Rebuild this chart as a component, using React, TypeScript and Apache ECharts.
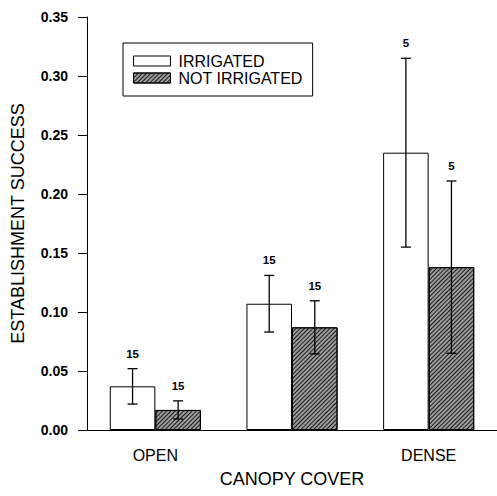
import React, { useEffect, useRef } from "react";
import * as echarts from "echarts";

const categories = ["OPEN", "INTERMEDIATE", "DENSE"];
const seriesNames = ["IRRIGATED", "NOT IRRIGATED"];
const irrigatedMean = [0.037, 0.107, 0.235];
const irrigatedErr = [0.015, 0.024, 0.08];
const irrigatedN = [15, 15, 5];
const notIrrigatedMean = [0.017, 0.087, 0.138];
const notIrrigatedErr = [0.0077, 0.0225, 0.073];
const notIrrigatedN = [15, 15, 5];
const yTicks = [0, 0.05, 0.1, 0.15, 0.2, 0.25, 0.3, 0.35];

const FONT = "'Liberation Sans', Arial, Helvetica, sans-serif";

function errData(mean: number[], err: number[], n: number[]) {
  return mean.map((m, i) => [i, m - err[i], m + err[i], n[i]]);
}

function makeErrorSeries(name: string, data: number[][], side: number) {
  return {
    type: "custom",
    name: name + " error",
    data,
    z: 10,
    renderItem: (params: any, api: any) => {
      const idx = api.value(0);
      const lo = api.coord([idx, api.value(1)]);
      const hi = api.coord([idx, api.value(2)]);
      const band = api.size([1, 0])[0];
      const x = lo[0] + side * band / 6;
      const cap = 5;
      const st = { stroke: "#000", lineWidth: 1.3 };
      return {
        type: "group",
        children: [
          { type: "line", shape: { x1: x, y1: lo[1], x2: x, y2: hi[1] }, style: st },
          { type: "line", shape: { x1: x - cap, y1: hi[1], x2: x + cap, y2: hi[1] }, style: st },
          { type: "line", shape: { x1: x - cap, y1: lo[1], x2: x + cap, y2: lo[1] }, style: st },
          {
            type: "text",
            style: {
              text: String(api.value(3)),
              x,
              y: hi[1] - 9,
              align: "center",
              verticalAlign: "bottom",
              fontSize: 11.5,
              fontWeight: "bold",
              fontFamily: FONT,
              fill: "#000",
            },
          },
        ],
      };
    },
  };
}

export default function App() {
  const ref = useRef<HTMLDivElement>(null);
  useEffect(() => {
    if (!ref.current) return;
    const chart = echarts.init(ref.current, undefined, { renderer: "svg" });
    const hatch = {
      symbol: "rect",
      symbolSize: 1,
      dashArrayX: [1, 0],
      dashArrayY: [1, 2],
      rotation: -Math.PI / 4,
      color: "#1a1a1a",
    };
    chart.setOption({
      animation: false,
      backgroundColor: "#fff",
      textStyle: { fontFamily: FONT },
      grid: { left: 87, top: 17, width: 415, height: 413 },
      legend: {
        orient: "vertical",
        left: 123,
        top: 43,
        data: seriesNames,
        icon: "rect",
        itemWidth: 37,
        itemHeight: 10,
        itemGap: 1,
        padding: [10, 10, 10, 10],
        borderColor: "#000",
        borderWidth: 1,
        borderRadius: 0,
        itemStyle: { borderColor: "#000", borderWidth: 1 },
        textStyle: { fontSize: 16, color: "#000", fontFamily: FONT, padding: [0, 0, 0, 3] },
      },
      xAxis: {
        type: "category",
        data: categories,
        name: "CANOPY COVER",
        nameLocation: "middle",
        nameGap: 40,
        nameTextStyle: { fontSize: 18, color: "#000", fontFamily: FONT },
        axisLine: { lineStyle: { color: "#000", width: 1 } },
        axisTick: { alignWithLabel: true, length: 8, lineStyle: { color: "#000" } },
        axisLabel: { fontSize: 16, color: "#000", margin: 17, fontFamily: FONT },
      },
      yAxis: {
        type: "value",
        min: yTicks[0],
        max: yTicks[yTicks.length - 1],
        interval: 0.05,
        name: "ESTABLISHMENT SUCCESS",
        nameLocation: "middle",
        nameGap: 60,
        nameTextStyle: { fontSize: 18, color: "#000", fontFamily: FONT },
        axisLine: { show: true, lineStyle: { color: "#000", width: 1 } },
        axisTick: { show: true, length: 9, lineStyle: { color: "#000" } },
        splitLine: { show: false },
        axisLabel: {
          fontSize: 14,
          fontWeight: "bold",
          color: "#000",
          margin: 19,
          fontFamily: FONT,
          formatter: (v: number) => v.toFixed(2),
        },
      },
      series: [
        {
          type: "bar",
          name: seriesNames[0],
          data: irrigatedMean,
          barWidth: "33.33%",
          barGap: "0%",
          itemStyle: { color: "#fff", borderColor: "#000", borderWidth: 1 },
        },
        {
          type: "bar",
          name: seriesNames[1],
          data: notIrrigatedMean,
          barWidth: "33.33%",
          barGap: "0%",
          itemStyle: { color: "#9c9c9c", borderColor: "#000", borderWidth: 1, decal: hatch },
        },
        makeErrorSeries(seriesNames[0], errData(irrigatedMean, irrigatedErr, irrigatedN), -1),
        makeErrorSeries(seriesNames[1], errData(notIrrigatedMean, notIrrigatedErr, notIrrigatedN), 1),
      ],
    });
    return () => chart.dispose();
  }, []);
  return (
    <div
      ref={ref}
      style={{ position: "fixed", left: 0, top: 0, width: 497, height: 496, background: "#fff" }}
    />
  );
}
